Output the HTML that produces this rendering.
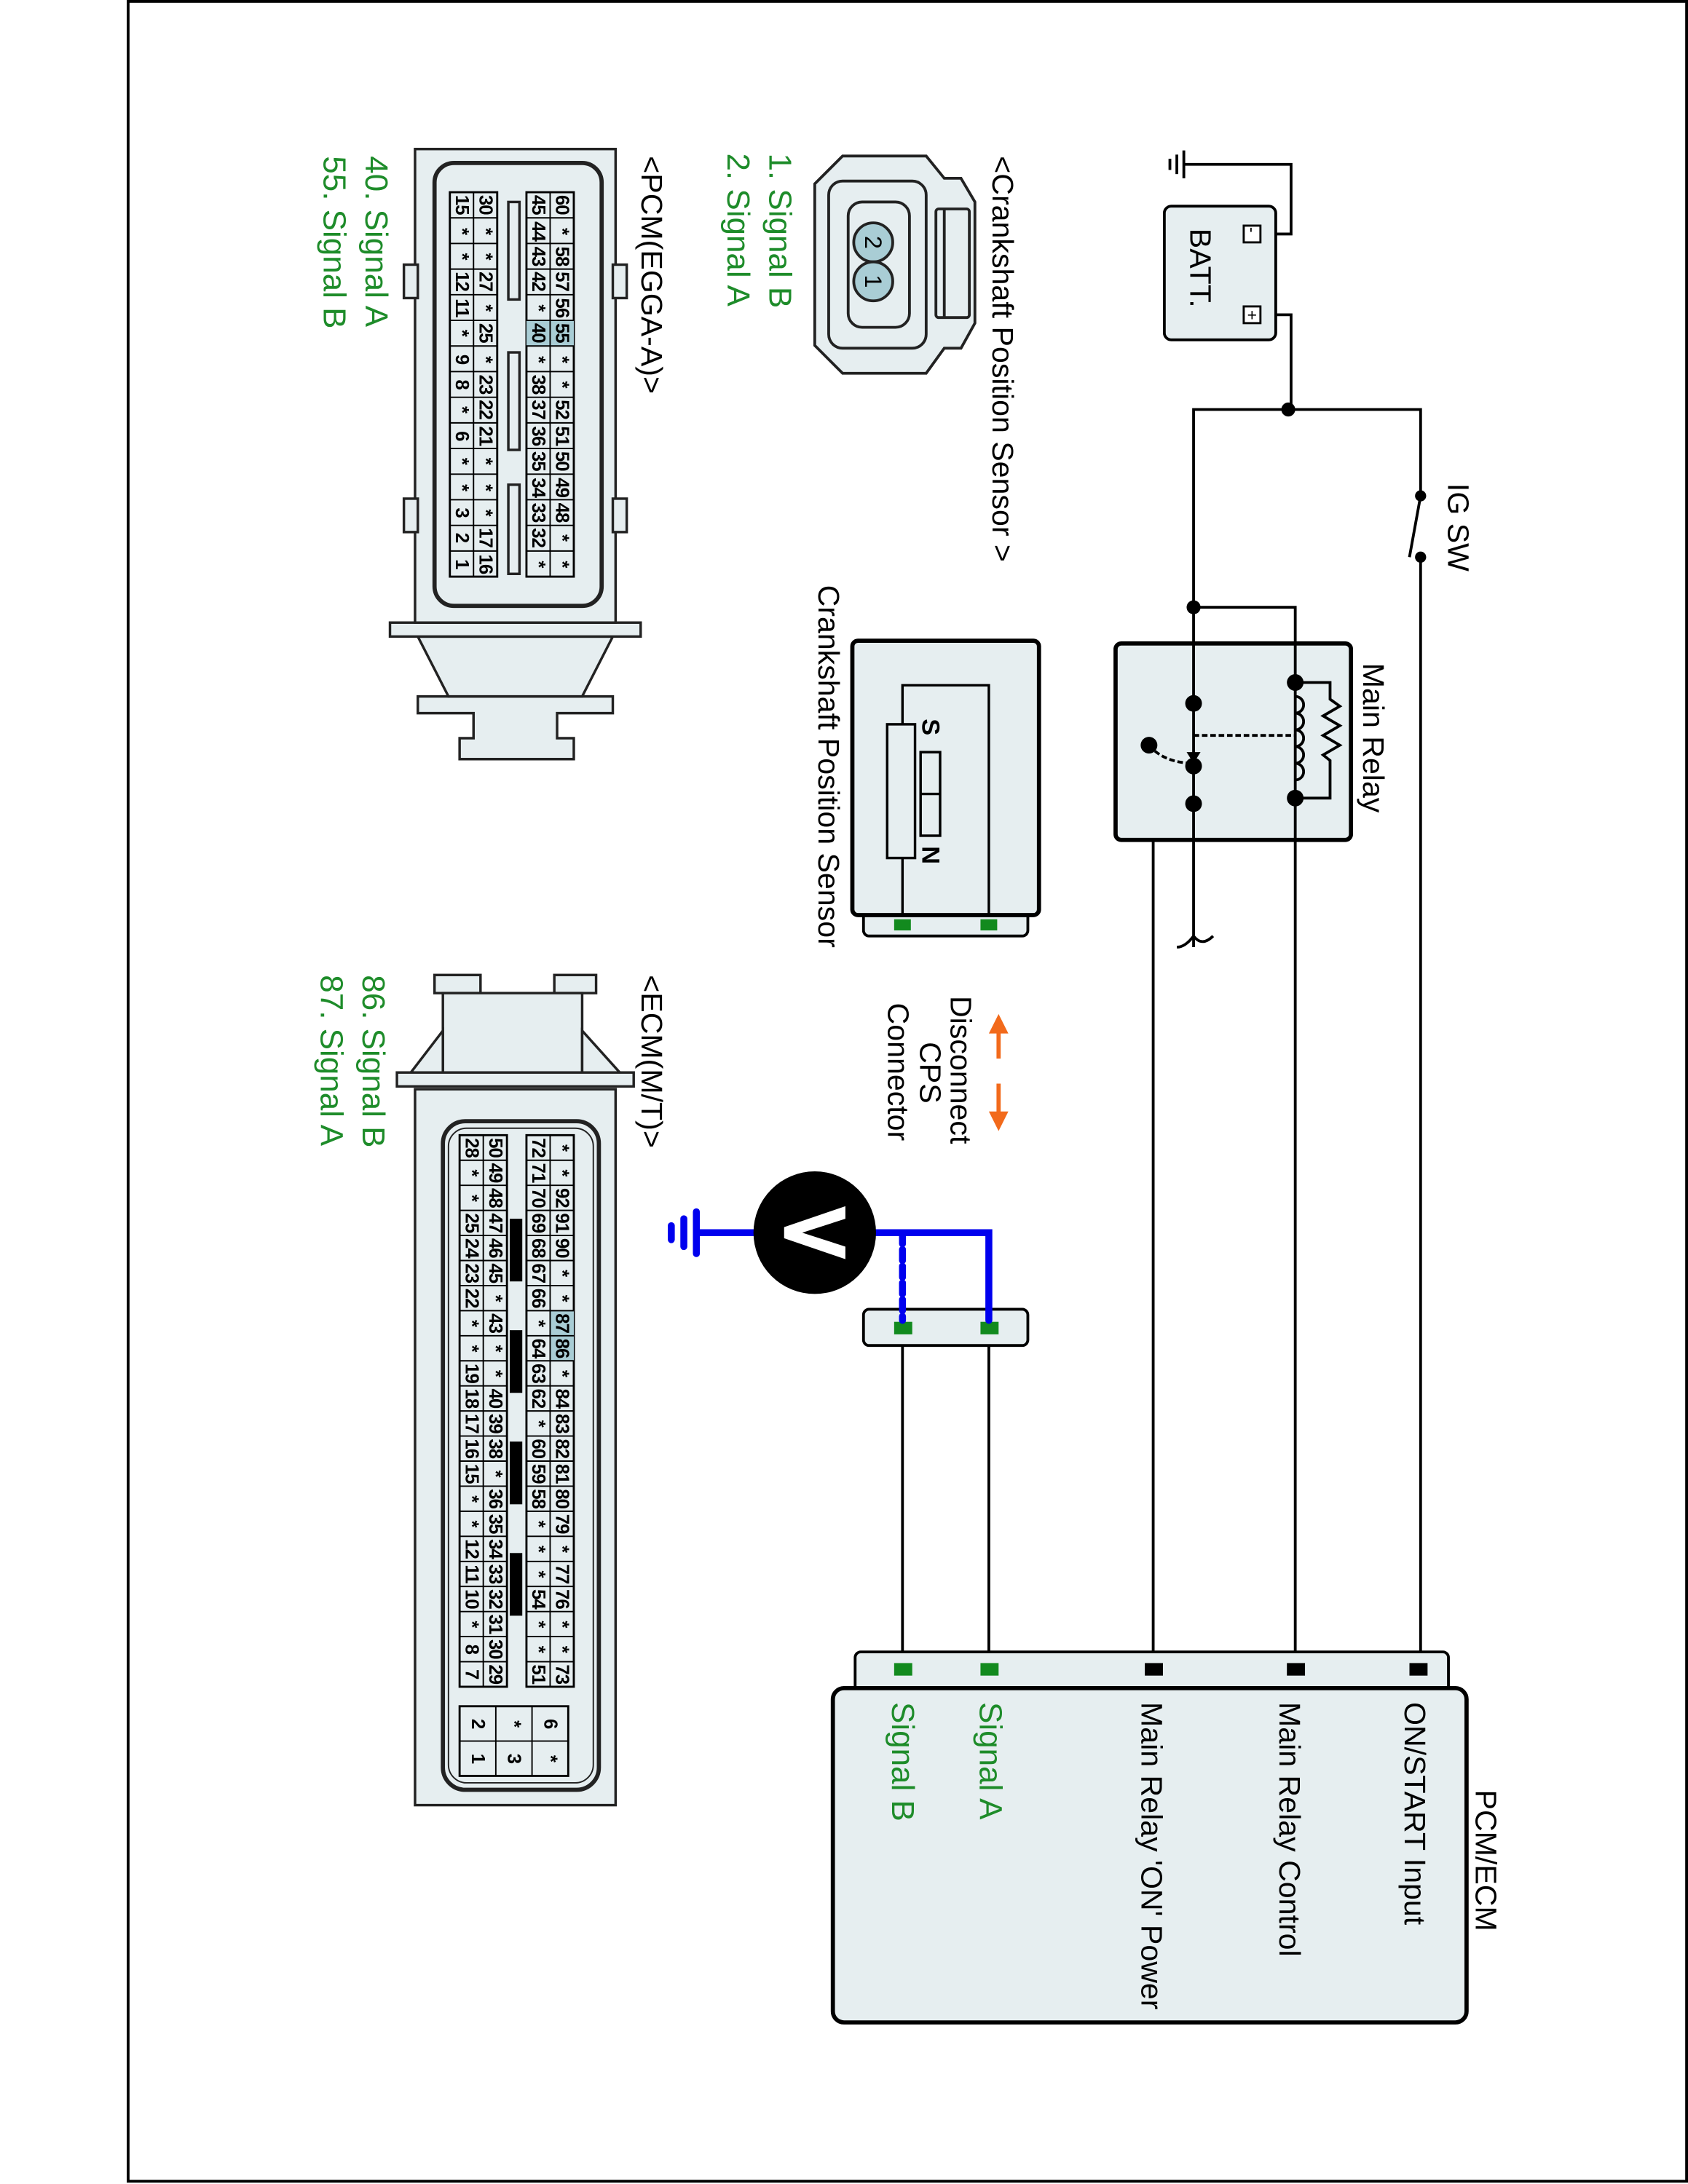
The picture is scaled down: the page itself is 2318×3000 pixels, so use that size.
<!DOCTYPE html>
<html><head><meta charset="utf-8"><style>
html,body{margin:0;padding:0;background:#fff}
svg{display:block}
text{font-family:"Liberation Sans",Arial,sans-serif}
.c{font-size:13.5px;font-weight:bold;text-anchor:middle;dominant-baseline:central;letter-spacing:-0.5px}
.l{font-size:21.5px;dominant-baseline:central}
.g{font-size:23px;fill:#1e8c2a;dominant-baseline:central}
</style></head><body>
<svg width="2318" height="3000" viewBox="0 0 1212 1568" preserveAspectRatio="none" xmlns="http://www.w3.org/2000/svg">
<rect x="92" y="1" width="1119" height="1565" fill="none" stroke="#000" stroke-width="2"/>

<g stroke="#000" stroke-width="2" fill="none">
<polyline points="905,168 927,168 927,118 850,118"/>
<polyline points="905,226 927,226 927,294"/>
<polyline points="857,680 857,294 1020,294 1020,356"/>
<line x1="1020" y1="400" x2="1020" y2="1198"/>
<line x1="1020" y1="356" x2="1012" y2="400"/>
<polyline points="857,436 930,436 930,1198"/>
<polyline points="857,577 828,577 828,1198"/>
<line x1="648" y1="953" x2="648" y2="1198"/>
<line x1="710" y1="953" x2="710" y2="1198"/>
<path d="M857,672 q-6,8 -12,8 M857,672 q6,8 14,0"/>
</g>
<g stroke="#000" stroke-width="2"><line x1="850" y1="108" x2="850" y2="128"/><line x1="845" y1="111" x2="845" y2="125"/><line x1="840" y1="114" x2="840" y2="122"/></g>
<rect x="836" y="148" width="80" height="96" rx="5" fill="#e6eef0" stroke="#000" stroke-width="2"/>
<rect x="893" y="162" width="12" height="12" fill="#fff" stroke="#000" stroke-width="1.5"/>
<rect x="893" y="220" width="12" height="12" fill="#fff" stroke="#000" stroke-width="1.5"/>
<text x="896" y="168" style="font-size:12px;text-anchor:middle;dominant-baseline:central" transform="rotate(90 899 168)">-</text>
<text x="899" y="226" style="font-size:12px;text-anchor:middle;dominant-baseline:central">+</text>
<text class="l" x="862" y="164" transform="rotate(90 862 164)">BATT.</text>
<g fill="#000"><circle cx="925" cy="294" r="5"/><circle cx="857" cy="436" r="5"/><circle cx="1020" cy="356" r="4"/><circle cx="1020" cy="400" r="4"/></g>
<text class="l" x="1047" y="347" transform="rotate(90 1047 347)">IG SW</text>

<rect x="801" y="462" width="169" height="141" rx="4" fill="#e6eef0" stroke="#000" stroke-width="3"/>
<g stroke="#000" stroke-width="2" fill="none">
<line x1="857" y1="462" x2="857" y2="603"/>
<line x1="930" y1="462" x2="930" y2="603"/>
<polyline points="930,490 955,490 955,502 962,507 950,514 962,521 950,528 962,535 950,542 955,546 955,573 930,573"/>
<path d="M930,500 a6,6 0 0 1 0,12 a6,6 0 0 1 0,12 a6,6 0 0 1 0,12 a6,6 0 0 1 0,12 a6,6 0 0 1 0,12" />
<line x1="857" y1="528" x2="930" y2="528" stroke-dasharray="4,2"/>
<path d="M825,535 q10,12 30,13" stroke-dasharray="4,2"/>
</g>
<polygon points="852,540 862,540 857,548" fill="#000"/>
<g fill="#000"><circle cx="930" cy="490" r="6"/><circle cx="930" cy="573" r="6"/><circle cx="857" cy="505" r="6"/><circle cx="857" cy="550" r="6"/><circle cx="857" cy="577" r="6"/><circle cx="825" cy="535" r="6"/></g>
<text class="l" x="986" y="476" transform="rotate(90 986 476)">Main Relay</text>

<rect x="620" y="650" width="118" height="22" rx="4" fill="#e6eef0" stroke="#000" stroke-width="2"/>
<rect x="612" y="460" width="134" height="197" rx="4" fill="#e6eef0" stroke="#000" stroke-width="3"/>
<g stroke="#000" stroke-width="1.8" fill="none">
<polyline points="648,657 648,616"/>
<polyline points="648,520 648,492 710,492 710,657"/>
<rect x="637" y="520" width="20" height="96" fill="#e6eef0"/>
<rect x="661" y="540" width="14" height="60"/>
<line x1="661" y1="570" x2="675" y2="570"/>
</g>
<text x="668" y="522" style="font-size:18px;font-weight:bold;text-anchor:middle;dominant-baseline:central" transform="rotate(90 668 522)">S</text>
<text x="668" y="614" style="font-size:18px;font-weight:bold;text-anchor:middle;dominant-baseline:central" transform="rotate(90 668 614)">N</text>
<rect x="642" y="660" width="12" height="8" fill="#128a1e"/><rect x="704" y="660" width="12" height="8" fill="#128a1e"/>
<text class="l" x="595" y="420" transform="rotate(90 595 420)">Crankshaft Position Sensor</text>

<g fill="#f26a1b" stroke="#f26a1b">
<polygon points="710,742 724,742 717,728" stroke="none"/><line x1="717" y1="740" x2="717" y2="760" stroke-width="3"/>
<polygon points="710,798 724,798 717,812" stroke="none"/><line x1="717" y1="778" x2="717" y2="800" stroke-width="3"/>
</g>
<text class="l" x="690" y="715" transform="rotate(90 690 715)">Disconnect</text>
<text class="l" x="668" y="748" transform="rotate(90 668 748)">CPS</text>
<text class="l" x="645" y="720" transform="rotate(90 645 720)">Connector</text>

<rect x="620" y="940" width="118" height="26" rx="4" fill="#e6eef0" stroke="#000" stroke-width="2"/>
<rect x="642" y="949" width="13" height="9" fill="#128a1e"/><rect x="704" y="949" width="13" height="9" fill="#128a1e"/>
<g stroke="#0000ee" stroke-width="5" fill="none" stroke-linecap="round">
<polyline points="625,885 710,885 710,948"/>
<line x1="648" y1="885" x2="648" y2="948" stroke-dasharray="8,4"/>
<line x1="500" y1="885" x2="545" y2="885"/>
<line x1="500" y1="870" x2="500" y2="900"/><line x1="491" y1="875" x2="491" y2="895"/><line x1="482" y1="880" x2="482" y2="890"/>
</g>
<circle cx="585" cy="885" r="44" fill="#000"/>
<polygon points="607,866 607,875 576,885 607,895 607,904 563,889 563,881" fill="#fff"/>

<rect x="614" y="1186" width="426" height="30" rx="4" fill="#e6eef0" stroke="#000" stroke-width="2"/>
<rect x="598" y="1212" width="455" height="240" rx="8" fill="#e6eef0" stroke="#000" stroke-width="3"/>
<rect x="642" y="1194" width="13" height="9" fill="#128a1e"/><rect x="704" y="1194" width="13" height="9" fill="#128a1e"/>
<rect x="822" y="1194" width="13" height="9" fill="#000"/><rect x="924" y="1194" width="13" height="9" fill="#000"/><rect x="1012" y="1194" width="13" height="9" fill="#000"/>
<text class="l" x="1067" y="1285" transform="rotate(90 1067 1285)">PCM/ECM</text>
<text class="l" x="1016" y="1222" transform="rotate(90 1016 1222)">ON/START Input</text>
<text class="l" x="926" y="1222" transform="rotate(90 926 1222)">Main Relay Control</text>
<text class="l" x="827" y="1222" transform="rotate(90 827 1222)">Main Relay 'ON' Power</text>
<text class="g" x="711" y="1222" transform="rotate(90 711 1222)">Signal A</text>
<text class="g" x="648" y="1222" transform="rotate(90 648 1222)">Signal B</text>

<text class="l" x="720" y="112" transform="rotate(90 720 112)">&lt;Crankshaft Position Sensor &gt;</text>
<text class="g" x="560" y="110" transform="rotate(90 560 110)">1. Signal B</text>
<text class="g" x="530" y="110" transform="rotate(90 530 110)">2. Signal A</text>
<text class="l" x="468" y="112" transform="rotate(90 468 112)">&lt;PCM(EGGA-A)&gt;</text>
<text class="g" x="270" y="112" transform="rotate(90 270 112)">40. Signal A</text>
<text class="g" x="240" y="112" transform="rotate(90 240 112)">55. Signal B</text>
<text class="l" x="468" y="700" transform="rotate(90 468 700)">&lt;ECM(M/T)&gt;</text>
<text class="g" x="268" y="700" transform="rotate(90 268 700)">86. Signal B</text>
<text class="g" x="238" y="700" transform="rotate(90 238 700)">87. Signal A</text>

<g stroke="#222" stroke-width="2" fill="#e6eef0">
<path d="M605,112 L665,112 L678,128 L690,128 L700,145 L700,232 L690,250 L678,250 L665,268 L605,268 L585,248 L585,132 Z"/>
<rect x="595" y="130" width="70" height="120" rx="10"/>
<rect x="609" y="145" width="44" height="90" rx="10"/>
<rect x="672" y="150" width="24" height="78" rx="2"/>
<line x1="678" y1="150" x2="678" y2="228"/>
<circle cx="627" cy="174" r="14" fill="#a9cdd5"/>
<circle cx="627" cy="202" r="14" fill="#a9cdd5"/>
</g>
<text x="627" y="174" style="font-size:17px;text-anchor:middle;dominant-baseline:central" transform="rotate(90 627 174)">2</text>
<text x="627" y="202" style="font-size:17px;text-anchor:middle;dominant-baseline:central" transform="rotate(90 627 202)">1</text>

<g stroke="#222" stroke-width="1.8" fill="#e6eef0">
<path d="M330,545 L330,530 L340,530 L340,512 L300,512 L300,500 L440,500 L440,512 L400,512 L400,530 L412,530 L412,545 Z"/>
<path d="M300,457 L440,457 L418,500 L322,500 Z"/>
<rect x="280" y="447" width="180" height="10"/>
<rect x="298" y="107" width="144" height="340"/>
<rect x="290" y="190" width="10" height="24"/><rect x="440" y="190" width="10" height="24"/>
<rect x="290" y="358" width="10" height="24"/><rect x="440" y="358" width="10" height="24"/>
<rect x="312" y="117" width="120" height="318" rx="14" stroke-width="3"/>
<rect x="365" y="145" width="8" height="70"/><rect x="365" y="253" width="8" height="70"/><rect x="365" y="348" width="8" height="64"/>
</g>
<g transform="translate(412,138) rotate(90)">
<rect x="0" y="0" width="276" height="34" fill="#e6eef0" stroke="#000" stroke-width="1.5"/>
<rect x="92" y="0" width="18.4" height="34" fill="#a9cdd5"/>
<g stroke="#000" stroke-width="1"><line x1="0" y1="17" x2="276" y2="17"/>
<path d="M18.4,0v34M36.8,0v34M55.2,0v34M73.6,0v34M92,0v34M110.4,0v34M128.8,0v34M147.2,0v34M165.6,0v34M184,0v34M202.4,0v34M220.8,0v34M239.2,0v34M257.6,0v34"/></g>
<g class="c"><text x="9" y="8.5">60</text><text x="28" y="8.5">*</text><text x="46" y="8.5">58</text><text x="64" y="8.5">57</text><text x="83" y="8.5">56</text><text x="101" y="8.5">55</text><text x="120" y="8.5">*</text><text x="138" y="8.5">*</text><text x="156" y="8.5">52</text><text x="175" y="8.5">51</text><text x="193" y="8.5">50</text><text x="212" y="8.5">49</text><text x="230" y="8.5">48</text><text x="248" y="8.5">*</text><text x="267" y="8.5">*</text>
<text x="9" y="25.5">45</text><text x="28" y="25.5">44</text><text x="46" y="25.5">43</text><text x="64" y="25.5">42</text><text x="83" y="25.5">*</text><text x="101" y="25.5">40</text><text x="120" y="25.5">*</text><text x="138" y="25.5">38</text><text x="156" y="25.5">37</text><text x="175" y="25.5">36</text><text x="193" y="25.5">35</text><text x="212" y="25.5">34</text><text x="230" y="25.5">33</text><text x="248" y="25.5">32</text><text x="267" y="25.5">*</text></g>
</g>
<g transform="translate(357,138) rotate(90)">
<rect x="0" y="0" width="276" height="34" fill="#e6eef0" stroke="#000" stroke-width="1.5"/>
<g stroke="#000" stroke-width="1"><line x1="0" y1="17" x2="276" y2="17"/>
<path d="M18.4,0v34M36.8,0v34M55.2,0v34M73.6,0v34M92,0v34M110.4,0v34M128.8,0v34M147.2,0v34M165.6,0v34M184,0v34M202.4,0v34M220.8,0v34M239.2,0v34M257.6,0v34"/></g>
<g class="c"><text x="9" y="8.5">30</text><text x="28" y="8.5">*</text><text x="46" y="8.5">*</text><text x="64" y="8.5">27</text><text x="83" y="8.5">*</text><text x="101" y="8.5">25</text><text x="120" y="8.5">*</text><text x="138" y="8.5">23</text><text x="156" y="8.5">22</text><text x="175" y="8.5">21</text><text x="193" y="8.5">*</text><text x="212" y="8.5">*</text><text x="230" y="8.5">*</text><text x="248" y="8.5">17</text><text x="267" y="8.5">16</text>
<text x="9" y="25.5">15</text><text x="28" y="25.5">*</text><text x="46" y="25.5">*</text><text x="64" y="25.5">12</text><text x="83" y="25.5">11</text><text x="101" y="25.5">*</text><text x="120" y="25.5">9</text><text x="138" y="25.5">8</text><text x="156" y="25.5">*</text><text x="175" y="25.5">6</text><text x="193" y="25.5">*</text><text x="212" y="25.5">*</text><text x="230" y="25.5">3</text><text x="248" y="25.5">2</text><text x="267" y="25.5">1</text></g>
</g>

<g stroke="#222" stroke-width="1.8" fill="#e6eef0">
<rect x="312" y="700" width="33" height="13"/><rect x="398" y="700" width="30" height="13"/>
<rect x="318" y="713" width="100" height="57"/>
<path d="M318,740 L295,770 L318,770 Z M418,740 L445,770 L418,770 Z"/>
<rect x="285" y="770" width="170" height="10"/>
<rect x="298" y="782" width="144" height="514"/>
<rect x="318" y="805" width="112" height="480" rx="16" stroke-width="3"/>
<rect x="322" y="810" width="104" height="470" rx="13" fill="none" stroke-width="1"/>
</g>
<g fill="#000"><rect x="366" y="875" width="9" height="45"/><rect x="366" y="955" width="9" height="45"/><rect x="366" y="1035" width="9" height="45"/><rect x="366" y="1115" width="9" height="45"/></g>
<g transform="translate(412,815) rotate(90)">
<rect x="0" y="0" width="396" height="34" fill="#e6eef0" stroke="#000" stroke-width="1.5"/>
<rect x="126" y="0" width="36" height="17" fill="#a9cdd5"/>
<g stroke="#000" stroke-width="1"><line x1="0" y1="17" x2="396" y2="17"/>
<path d="M18,0v34M36,0v34M54,0v34M72,0v34M90,0v34M108,0v34M126,0v34M144,0v34M162,0v34M180,0v34M198,0v34M216,0v34M234,0v34M252,0v34M270,0v34M288,0v34M306,0v34M324,0v34M342,0v34M360,0v34M378,0v34"/></g>
<g class="c"><text x="9" y="8.5">*</text><text x="27" y="8.5">*</text><text x="45" y="8.5">92</text><text x="63" y="8.5">91</text><text x="81" y="8.5">90</text><text x="99" y="8.5">*</text><text x="117" y="8.5">*</text><text x="135" y="8.5">87</text><text x="153" y="8.5">86</text><text x="171" y="8.5">*</text><text x="189" y="8.5">84</text><text x="207" y="8.5">83</text><text x="225" y="8.5">82</text><text x="243" y="8.5">81</text><text x="261" y="8.5">80</text><text x="279" y="8.5">79</text><text x="297" y="8.5">*</text><text x="315" y="8.5">77</text><text x="333" y="8.5">76</text><text x="351" y="8.5">*</text><text x="369" y="8.5">*</text><text x="387" y="8.5">73</text>
<text x="9" y="25.5">72</text><text x="27" y="25.5">71</text><text x="45" y="25.5">70</text><text x="63" y="25.5">69</text><text x="81" y="25.5">68</text><text x="99" y="25.5">67</text><text x="117" y="25.5">66</text><text x="135" y="25.5">*</text><text x="153" y="25.5">64</text><text x="171" y="25.5">63</text><text x="189" y="25.5">62</text><text x="207" y="25.5">*</text><text x="225" y="25.5">60</text><text x="243" y="25.5">59</text><text x="261" y="25.5">58</text><text x="279" y="25.5">*</text><text x="297" y="25.5">*</text><text x="315" y="25.5">*</text><text x="333" y="25.5">54</text><text x="351" y="25.5">*</text><text x="369" y="25.5">*</text><text x="387" y="25.5">51</text></g>
</g>
<g transform="translate(364,815) rotate(90)">
<rect x="0" y="0" width="396" height="34" fill="#e6eef0" stroke="#000" stroke-width="1.5"/>
<g stroke="#000" stroke-width="1"><line x1="0" y1="17" x2="396" y2="17"/>
<path d="M18,0v34M36,0v34M54,0v34M72,0v34M90,0v34M108,0v34M126,0v34M144,0v34M162,0v34M180,0v34M198,0v34M216,0v34M234,0v34M252,0v34M270,0v34M288,0v34M306,0v34M324,0v34M342,0v34M360,0v34M378,0v34"/></g>
<g class="c"><text x="9" y="8.5">50</text><text x="27" y="8.5">49</text><text x="45" y="8.5">48</text><text x="63" y="8.5">47</text><text x="81" y="8.5">46</text><text x="99" y="8.5">45</text><text x="117" y="8.5">*</text><text x="135" y="8.5">43</text><text x="153" y="8.5">*</text><text x="171" y="8.5">*</text><text x="189" y="8.5">40</text><text x="207" y="8.5">39</text><text x="225" y="8.5">38</text><text x="243" y="8.5">*</text><text x="261" y="8.5">36</text><text x="279" y="8.5">35</text><text x="297" y="8.5">34</text><text x="315" y="8.5">33</text><text x="333" y="8.5">32</text><text x="351" y="8.5">31</text><text x="369" y="8.5">30</text><text x="387" y="8.5">29</text>
<text x="9" y="25.5">28</text><text x="27" y="25.5">*</text><text x="45" y="25.5">*</text><text x="63" y="25.5">25</text><text x="81" y="25.5">24</text><text x="99" y="25.5">23</text><text x="117" y="25.5">22</text><text x="135" y="25.5">*</text><text x="153" y="25.5">*</text><text x="171" y="25.5">19</text><text x="189" y="25.5">18</text><text x="207" y="25.5">17</text><text x="225" y="25.5">16</text><text x="243" y="25.5">15</text><text x="261" y="25.5">*</text><text x="279" y="25.5">*</text><text x="297" y="25.5">12</text><text x="315" y="25.5">11</text><text x="333" y="25.5">10</text><text x="351" y="25.5">*</text><text x="369" y="25.5">8</text><text x="387" y="25.5">7</text></g>
</g>
<g transform="translate(408,1225) rotate(90)">
<rect x="0" y="0" width="50" height="78" fill="#e6eef0" stroke="#000" stroke-width="1.5"/>
<g stroke="#000" stroke-width="1"><line x1="25" y1="0" x2="25" y2="78"/><line x1="0" y1="26" x2="50" y2="26"/><line x1="0" y1="52" x2="50" y2="52"/></g>
<g class="c"><text x="12.5" y="13">6</text><text x="37.5" y="13">*</text><text x="12.5" y="39">*</text><text x="37.5" y="39">3</text><text x="12.5" y="65">2</text><text x="37.5" y="65">1</text></g>
</g>
</svg>
</body></html>
